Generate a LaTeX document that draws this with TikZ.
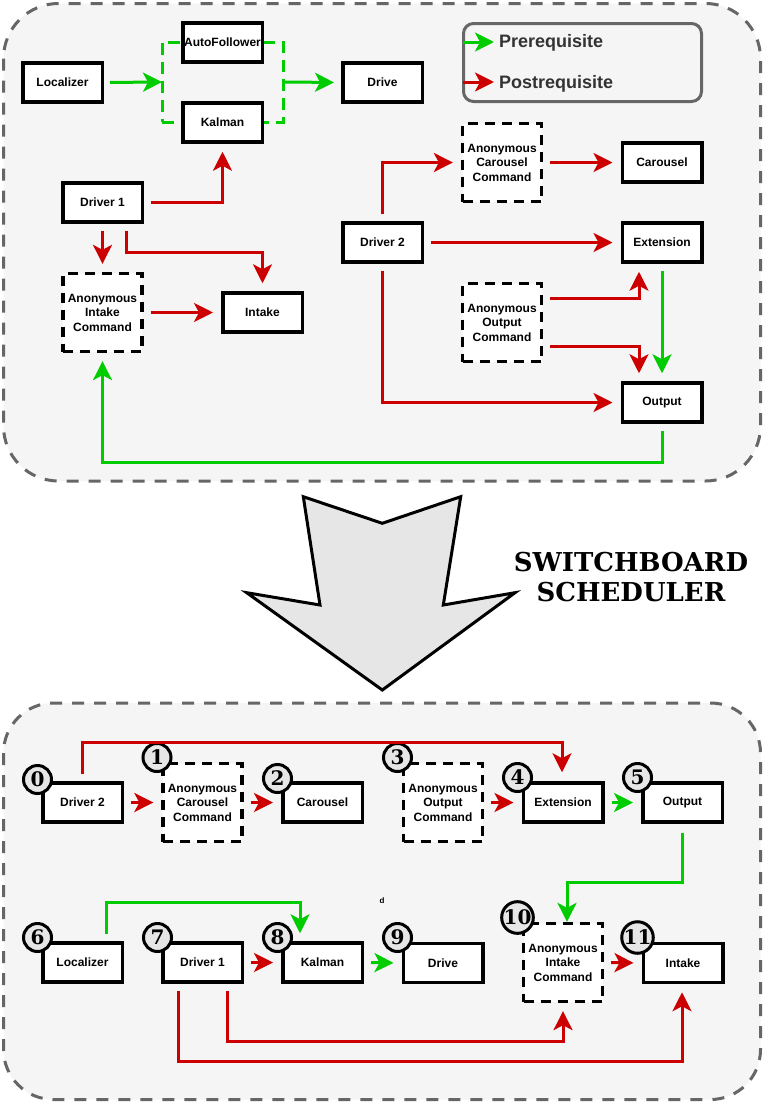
\documentclass[tikz,border=0pt]{standalone}
\usepackage{fontspec}
\setmainfont{Liberation Sans}
\newfontfamily\titlefont{DejaVu Serif}
\usetikzlibrary{arrows.meta,calc}
\definecolor{rd}{HTML}{CC0000}
\definecolor{gn}{HTML}{00CC00}
\definecolor{bggray}{HTML}{F5F5F5}
\definecolor{bordgray}{HTML}{666666}
\definecolor{circgray}{HTML}{E6E6E6}
\definecolor{txtgray}{HTML}{333333}
\begin{document}
\begin{tikzpicture}[x=1pt,y=-1pt,
  box/.style={draw=black, line width=3.5pt, fill=white, minimum width=79.5pt, minimum height=39pt, inner sep=0pt, font=\bfseries\fontsize{12}{14.5}\selectfont, align=center},
  dbox/.style={draw=black, line width=3.3pt, dash pattern=on 10pt off 7pt, fill=white, minimum width=79pt, minimum height=78pt, inner sep=0pt, font=\bfseries\fontsize{12}{14.5}\selectfont, align=center},
  num/.style={circle, draw=black, line width=3pt, fill=circgray, minimum size=28pt, inner sep=0pt, font=\titlefont\bfseries\fontsize{20}{20}\selectfont},
  conn/.style={line width=3pt, -{Stealth[length=19pt,width=19pt,inset=5pt]}, shorten <=7pt, shorten >=8pt},
  rarr/.style={conn, color=rd},
  garr/.style={conn, color=gn},
  cont/.style={draw=bordgray, line width=3pt, dash pattern=on 12pt off 10pt, fill=bggray},
  legtext/.style={font=\bfseries\fontsize{18}{18}\selectfont, text=txtgray, inner sep=0pt, anchor=west}
]
\fill[white] (0,0) rectangle (764,1103);
\useasboundingbox (0,0) rectangle (764,1103);

% containers
\draw[cont, rounded corners=55pt] (3.5,3.5) rectangle (760.5,481);
\draw[cont, rounded corners=50pt] (3.5,703) rectangle (760.5,1099.5);

% ---------- top section ----------
\node[draw=gn, line width=3pt, dash pattern=on 12pt off 7pt, minimum width=121pt, minimum height=80pt, outer sep=0pt, inner sep=0pt] (grp) at (222.5,82) {};

\node[box] (Loc) at (62.5,82.5) {Localizer};
\node[box] (Auto) at (222.5,42.5) {AutoFollower};
\node[box] (Kal) at (222.5,122.5) {Kalman};
\node[box] (Drive) at (382.5,82.5) {Drive};
\node[box] (D1) at (102.5,202.5) {Driver 1};
\node[box] (D2) at (382.5,242.5) {Driver 2};
\node[dbox] (AC) at (502,162.5) {Anonymous\\Carousel\\Command};
\node[box] (Car) at (662,162.5) {Carousel};
\node[box] (Ext) at (662,242.5) {Extension};
\node[dbox] (AO) at (502,322.5) {Anonymous\\Output\\Command};
\node[box] (Out) at (662,402.5) {Output};
\node[dbox] (AI) at (102.5,312.5) {Anonymous\\Intake\\Command};
\node[box] (Int) at (262.5,312.5) {Intake};

% legend
\node[draw=bordgray, line width=3pt, rounded corners=10pt, minimum width=238pt, minimum height=78pt, inner sep=0pt] (legend) at (582.5,62.5) {};
\node[legtext] (pre) at (499,43) {Prerequisite};
\node[legtext] (post) at (499,84) {Postrequisite};
\coordinate (preS) at (463,42);
\coordinate (postS) at (463,82);
\draw[garr, shorten <=0pt, shorten >=5pt] (preS) -- (preS -| pre.west);
\draw[rarr, shorten <=0pt, shorten >=5pt] (postS) -- (postS -| post.west);

% top connectors
\draw[garr, shorten <=6pt, shorten >=0pt] (Loc.east) -- (grp.west);
\draw[garr, shorten <=0pt, shorten >=7pt] (grp.east) -- (Drive.west);
\draw[rarr] (D1.east) -| (Kal.south);
\draw[rarr] (D1.south) -- (AI.north);
\draw[rarr] ($(D1.south)+(23.5,0)$) -- ++(0,29) -| (Int.north);
\draw[rarr] (AI.east) -- (Int.west);
\draw[garr] (Out.south) -- ++(0,39) -| (AI.south);
\draw[rarr] (D2.north) |- (AC.west);
\draw[rarr] (AC.east) -- (Car.west);
\draw[rarr] (D2.east) -- (Ext.west);
\draw[rarr] ($(AO.east)+(0,-24.5)$) -| ($(Ext.south)+(-23,0)$);
\draw[rarr] ($(AO.east)+(0,23.5)$) -| ($(Out.north)+(-23,0)$);
\draw[garr] (Ext.south) -- (Out.north);
\draw[rarr] (D2.south) |- (Out.west);

% big arrow and title
\draw[line width=3pt, fill=circgray, line join=miter] (303.3,496.7) -- (382.3,523.3) -- (460.7,496.7) -- (443.3,605) -- (515,592.7) -- (382.3,690) -- (246.7,592.7) -- (320,605) -- cycle;
\node[font=\titlefont\bfseries\fontsize{26}{30}\selectfont, align=center, inner sep=0pt] (title) at (631,577) {SWITCHBOARD\\SCHEDULER};

% ---------- bottom section ----------
\node[box] (D2b) at (82.5,802.5) {Driver 2};
\node[dbox] (ACb) at (202.5,802.5) {Anonymous\\Carousel\\Command};
\node[box] (Carb) at (322.5,802.5) {Carousel};
\node[dbox] (AOb) at (443,802.5) {Anonymous\\Output\\Command};
\node[box] (Extb) at (563,802.5) {Extension};
\node[box] (Outb) at (682.5,802.5) {Output};
\node[box] (Locb) at (82.5,962.5) {Localizer};
\node[box] (D1b) at (202.5,962.5) {Driver 1};
\node[box] (Kalb) at (322.5,962.5) {Kalman};
\node[box] (Drvb) at (443,963) {Drive};
\node[dbox] (AIb) at (563,962.5) {Anonymous\\Intake\\Command};
\node[box] (Intb) at (683,963) {Intake};

\node[num] (n0) at (37.5,779.5) {0};
\node[num] (n1) at (157,757.5) {1};
\node[num] (n2) at (277.5,778.5) {2};
\node[num] (n3) at (397.5,757.5) {3};
\node[num] (n4) at (517.5,777.5) {4};
\node[num] (n5) at (637.5,777.5) {5};
\node[num] (n6) at (37.5,937.5) {6};
\node[num] (n7) at (157.5,937.5) {7};
\node[num] (n8) at (277.5,937.5) {8};
\node[num] (n9) at (397.5,937.5) {9};
\node[num] (n10) at (517.5,917.5) {10};
\node[num] (n11) at (637.5,937.5) {11};

\node[font=\bfseries\fontsize{8}{8}\selectfont, inner sep=0pt] (stray) at (382,901) {d};

% bottom connectors
\draw[rarr] (D2b.east) -- (ACb.west);
\draw[rarr] (ACb.east) -- (Carb.west);
\draw[rarr] (AOb.east) -- (Extb.west);
\draw[garr] (Extb.east) -- (Outb.west);
\draw[rarr, shorten >=9pt] (D2b.north) -- ++(0,-39) -| ($(Extb.north)+(-1,0)$);
\draw[garr, shorten <=9pt, shorten >=0pt] (Outb.south) -- ++(0,59) -| ($(AIb.north)+(4,0)$);
\draw[rarr] (D1b.east) -- (Kalb.west);
\draw[garr] (Kalb.east) -- (Drvb.west);
\draw[rarr] (AIb.east) -- (Intb.west);
\draw[garr] ($(Locb.north)+(23.5,0)$) -- ++(0,-39) -| ($(Kalb.north)+(-22.5,0)$);
\draw[rarr] ($(D1b.south)+(24.5,0)$) -- ++(0,58) -| (AIb.south);
\draw[rarr] ($(D1b.south)+(-24.5,0)$) -- ++(0,78) -| ($(Intb.south)+(-1,0)$);
\end{tikzpicture}
\end{document}
